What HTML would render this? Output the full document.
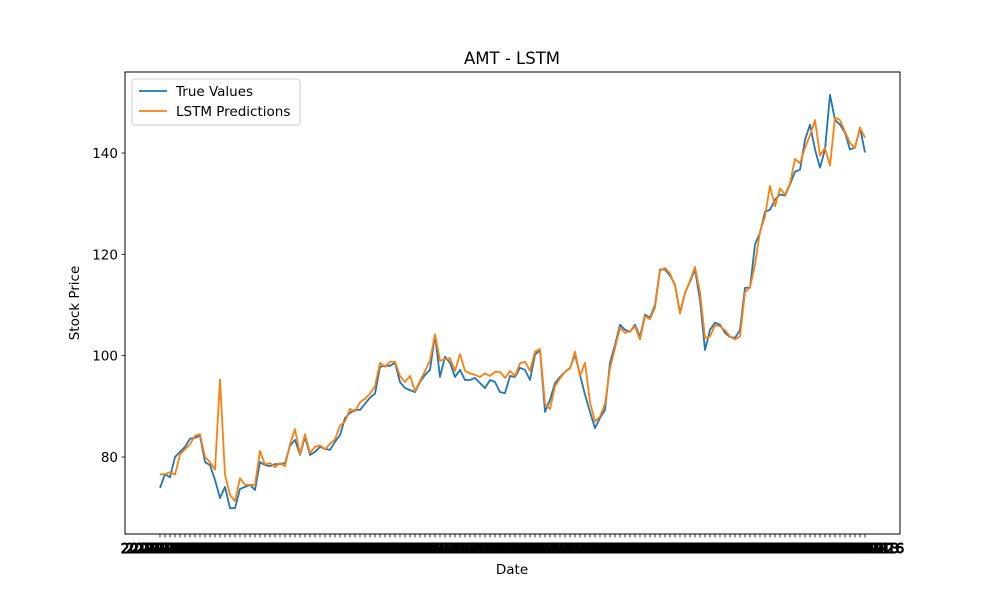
<!DOCTYPE html>
<html><head><meta charset="utf-8"><style>
body{margin:0;background:#fff;}
svg text{font-family:"DejaVu Sans","Liberation Sans",sans-serif;fill:#000;}
</style></head><body>
<svg id="chart" width="1000" height="600" viewBox="0 0 1000 600" xmlns="http://www.w3.org/2000/svg">
<rect width="1000" height="600" fill="#fff"/>
<text x="512" y="64" text-anchor="middle" font-size="16.5">AMT - LSTM</text>
<g id="plot"></g>
<rect x="125" y="72" width="775" height="462" fill="none" stroke="#000" stroke-width="1"/>
<text x="512" y="574" text-anchor="middle" font-size="13.5">Date</text>
<text transform="translate(79,303) rotate(-90)" text-anchor="middle" font-size="13.5">Stock Price</text>
<g>
<rect x="132" y="79" width="168" height="46" rx="3" fill="#fff" fill-opacity="0.8" stroke="#ccc"/>
<line x1="139" y1="91" x2="167" y2="91" stroke="#1f77b4" stroke-width="1.8"/>
<text x="176" y="96" font-size="13.5">True Values</text>
<line x1="139" y1="111" x2="167" y2="111" stroke="#ff7f0e" stroke-width="1.8"/>
<text x="176" y="116" font-size="13.5">LSTM Predictions</text>
</g>
</svg>
<script>
const trueValues=[73.9,76.6,76.0,80.0,81.0,82.0,83.6,83.8,84.2,79.0,78.4,75.5,71.9,74.1,69.9,69.9,73.7,74.1,74.5,73.5,79.0,78.4,78.2,78.6,78.6,78.8,82.2,83.4,80.4,84.0,80.4,81.0,82.0,81.6,81.4,83.0,84.3,87.7,88.7,89.3,89.3,90.5,91.7,92.5,97.8,98.0,98.0,98.6,94.8,93.6,93.2,92.8,94.8,96.2,97.2,104.1,95.8,99.8,98.6,95.8,97.2,95.2,95.2,95.6,94.6,93.6,95.2,94.8,92.8,92.6,96.0,95.8,97.6,97.2,95.2,100.2,101.1,88.9,91.3,94.6,95.8,96.8,97.6,100.2,96.2,92.3,88.9,85.7,87.7,89.3,98.6,102.1,106.1,105.1,104.7,106.1,103.7,108.1,107.5,110.0,117.0,117.0,115.8,114.0,108.5,112.4,114.6,117.0,111.0,101.1,105.1,106.5,106.1,104.5,103.7,103.5,105.1,113.4,113.4,121.9,124.3,128.4,128.8,130.8,131.8,131.6,133.8,136.3,136.7,142.6,145.6,140.7,137.1,140.7,151.5,146.5,145.6,144.0,140.7,141.1,145.0,140.1];
const lstmValues=[76.6,76.6,77.0,76.5,80.5,81.5,82.5,84.2,84.5,80.0,79.0,77.5,95.3,76.5,72.5,71.3,75.8,74.5,74.5,74.5,81.2,78.5,78.8,78.0,78.8,78.2,82.5,85.5,80.5,84.5,80.8,82.0,82.3,81.5,82.6,83.5,86.2,87.0,89.5,89.0,90.8,91.5,92.5,94.0,98.6,97.8,98.8,98.8,96.0,94.8,96.0,93.0,95.0,97.0,99.0,104.2,99.0,99.3,99.5,97.0,100.3,97.0,96.5,96.2,95.8,96.5,96.0,96.8,96.8,95.6,97.0,96.0,98.5,98.8,97.0,100.8,101.3,90.5,89.5,94.0,95.5,96.8,97.5,100.8,96.0,98.6,90.8,87.0,88.0,90.5,97.5,101.5,105.5,104.5,104.8,105.8,103.2,107.8,107.2,109.5,116.8,117.3,116.2,113.8,108.3,112.3,114.8,117.5,112.5,103.5,103.8,106.0,105.8,105.0,103.8,103.2,103.8,112.5,113.5,118.0,124.5,127.5,133.5,129.5,133.0,131.8,134.0,138.8,138.0,141.0,143.5,146.5,139.5,141.0,137.5,147.0,146.5,144.2,142.0,141.0,145.0,143.0];
const yTicks=[80,100,120,140];
const dates=[];
{let d=new Date(Date.UTC(2019,2,1));while(dates.length<trueValues.length){const w=d.getUTCDay();if(w!==0&&w!==6)dates.push(d.toISOString().slice(0,10));d.setUTCDate(d.getUTCDate()+1);}}

const NS="http://www.w3.org/2000/svg";
const plot=document.getElementById('plot');
const n=trueValues.length;
function xs(i){return 160+i*(705/(n-1));}
function ys(v){return 457-(v-80)*(304/60);}
function mk(t,a){const e=document.createElementNS(NS,t);for(const k in a)e.setAttribute(k,a[k]);plot.appendChild(e);return e;}
for(let i=0;i<n;i++){
  const t=mk('line',{x1:xs(i),x2:xs(i),y1:534,y2:537.5,stroke:'#000','stroke-width':0.8});
  
  
  const l=mk('text',{x:xs(i),y:553,'text-anchor':'middle','font-size':13.5,stroke:'#000','stroke-width':0.9});
  l.textContent=dates[i];
  
  
}
yTicks.forEach(v=>{
  const t=mk('line',{x1:121.5,x2:125,y1:ys(v),y2:ys(v),stroke:'#000','stroke-width':0.8});
  
  
  const l=mk('text',{x:118,y:ys(v)+5,'text-anchor':'end','font-size':13.5});
  l.textContent=v;
  
  
});
function line(vals,color,name){
  const p=mk('polyline',{points:vals.map((v,i)=>xs(i).toFixed(2)+','+ys(v).toFixed(2)).join(' '),fill:'none',stroke:color,'stroke-width':1.8,'stroke-linejoin':'round'});
  
  
}
line(trueValues,'#1f77b4','true-values-line');
line(lstmValues,'#ff7f0e','lstm-predictions-line');
</script>
</body></html>
